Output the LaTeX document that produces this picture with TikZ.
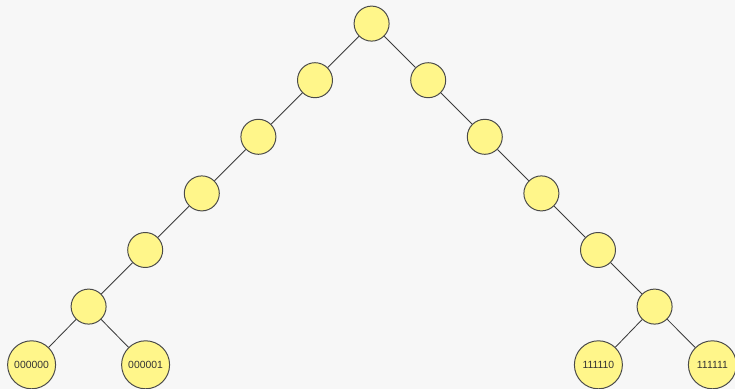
\documentclass[tikz,border=0pt]{standalone}
\usepackage{fontspec}
\setsansfont{Liberation Sans}
\definecolor{bgcol}{HTML}{F7F7F7}
\definecolor{nodefill}{HTML}{FFF68A}
\definecolor{nodeline}{HTML}{4A4A4A}
\definecolor{edgeline}{HTML}{3C3C3C}

\begin{document}
\begin{tikzpicture}
    \tikzstyle{bit} = [circle, draw=nodeline, fill=nodefill, line width=0.7pt, minimum size=0.875cm, inner sep=0pt]
    \tikzstyle{leaf} = [bit, minimum size=1.2cm, text=black!80, font=\sffamily\fontsize{7.4}{8}\selectfont]
    \tikzstyle{branch} = [draw=edgeline, line width=0.6pt]
    \fill[bgcol] (0,0) rectangle (18.375,-9.725);
    \useasboundingbox (0,0) rectangle (18.375,-9.725);
    % root and the two chains
    \node[bit] (root) at (9.29,-0.59) {};
    \foreach \i in {1,...,5} {
        \node[bit] (l\i) at ({9.29-1.415*\i},{-0.59-1.415*\i}) {};
        \node[bit] (r\i) at ({9.29+1.415*\i},{-0.59-1.415*\i}) {};
    }
    % leaves
    \node[leaf] (z0) at (0.79,-9.12) {000000};
    \node[leaf] (z1) at (3.64,-9.12) {000001};
    \node[leaf] (o0) at (14.96,-9.12) {111110};
    \node[leaf] (o1) at (17.81,-9.12) {111111};
    \path[branch] (root) edge (l1) edge (r1);
    \path[branch] (l1) edge (l2) (l2) edge (l3) (l3) edge (l4) (l4) edge (l5);
    \path[branch] (r1) edge (r2) (r2) edge (r3) (r3) edge (r4) (r4) edge (r5);
    \path[branch] (l5) edge (z0) edge (z1);
    \path[branch] (r5) edge (o0) edge (o1);
\end{tikzpicture}
\end{document}
